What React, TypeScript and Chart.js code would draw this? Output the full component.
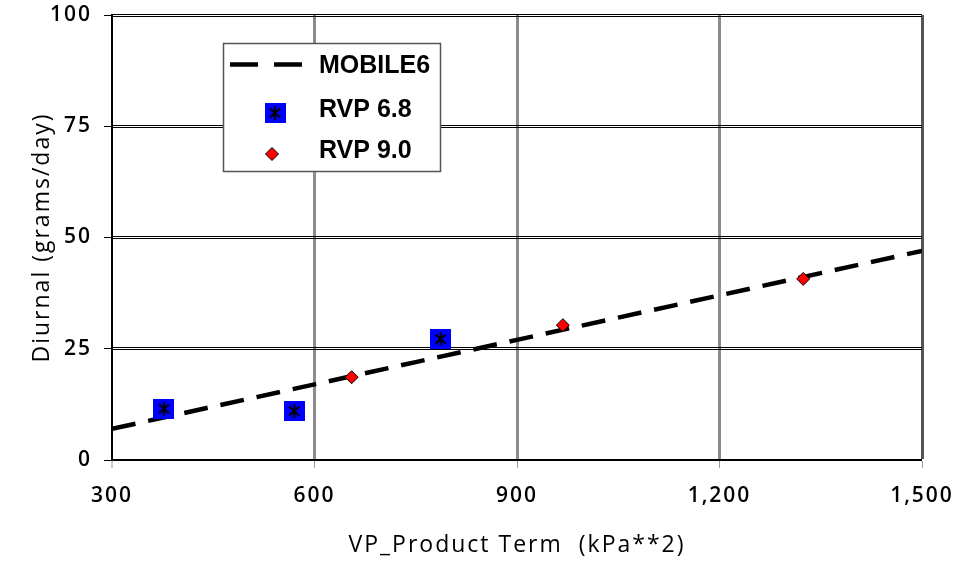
import React, { useEffect, useRef } from 'react';
import { Chart, registerables } from 'chart.js';

Chart.register(...registerables);

// ---- data ----
const xTickValues = [300, 600, 900, 1200, 1500];
const yTickValues = [0, 25, 50, 75, 100];

const mobileX = [300, 450, 600, 750, 900, 1050, 1200, 1350, 1500];
const mobileY = [7.0, 12.0, 17.0, 22.0, 27.0, 32.0, 37.0, 42.0, 47.0];

const rvp68X = [377, 570, 787];
const rvp68Y = [11.5, 11.0, 27.2];

const rvp90X = [655, 968, 1324];
const rvp90Y = [18.6, 30.3, 40.7];

const seriesNames = ['MOBILE6', 'RVP 6.8', 'RVP 9.0'];
const xTitle = 'VP_Product Term  (kPa**2)';
const yTitle = 'Diurnal (grams/day)';

const FONT = '"Open Sans", "DejaVu Sans", sans-serif';

function makeSquareMarker(): HTMLCanvasElement {
  const c = document.createElement('canvas');
  c.width = 21;
  c.height = 20;
  const g = c.getContext('2d')!;
  g.fillStyle = '#0000ff';
  g.fillRect(0, 0, 21, 20);
  g.strokeStyle = '#000';
  g.lineWidth = 2;
  g.beginPath();
  g.moveTo(10.5, 3);
  g.lineTo(10.5, 17);
  g.moveTo(5.5, 5.5);
  g.lineTo(15.5, 14.5);
  g.moveTo(15.5, 5.5);
  g.lineTo(5.5, 14.5);
  g.stroke();
  return c;
}

export default function App() {
  const ref = useRef<HTMLCanvasElement>(null);

  useEffect(() => {
    document.body.style.margin = '0';
    const canvas = ref.current!;
    const marker = makeSquareMarker();

    const spacingPlugin = {
      id: 'spacing',
      beforeDraw(chart: any) {
        (chart.ctx as any).letterSpacing = '2px';
      },
    };

    const doubleGridPlugin = {
      id: 'doubleGrid',
      beforeDatasetsDraw(chart: any) {
        const { ctx, chartArea, scales } = chart;
        const ys = scales.y;
        ctx.save();
        ctx.fillStyle = '#000';
        const w = chartArea.right - chartArea.left;
        for (const v of yTickValues) {
          if (v === yTickValues[0]) continue;
          const py = Math.floor(ys.getPixelForValue(v));
          ctx.fillRect(chartArea.left, py - 1, w, 1);
          ctx.fillRect(chartArea.left, py + 1, w, 1);
        }
        ctx.restore();
      },
    };

    const legendPlugin = {
      id: 'boxLegend',
      afterDraw(chart: any) {
        const ctx = chart.ctx;
        const ds = chart.data.datasets;
        ctx.save();
        (ctx as any).letterSpacing = '0px';
        const bx = 223, by = 43, bw = 217, bh = 128;
        ctx.fillStyle = '#fff';
        ctx.fillRect(bx, by, bw, bh);
        ctx.strokeStyle = '#555';
        ctx.lineWidth = 1.5;
        ctx.strokeRect(bx + 0.5, by + 0.5, bw, bh);

        // line sample
        ctx.strokeStyle = '#000';
        ctx.lineWidth = 4.5;
        ctx.lineCap = 'butt';
        ctx.setLineDash([28, 16]);
        ctx.beginPath();
        ctx.moveTo(230, 64.5);
        ctx.lineTo(303, 64.5);
        ctx.stroke();
        ctx.setLineDash([]);

        // square marker
        ctx.drawImage(marker, 275 - 10.5, 113 - 10);

        // diamond marker
        const dx = 272, dy = 154, r = 6.5;
        ctx.beginPath();
        ctx.moveTo(dx, dy - r);
        ctx.lineTo(dx + r, dy);
        ctx.lineTo(dx, dy + r);
        ctx.lineTo(dx - r, dy);
        ctx.closePath();
        ctx.fillStyle = '#ff0000';
        ctx.fill();
        ctx.lineWidth = 1;
        ctx.strokeStyle = '#000';
        ctx.stroke();

        ctx.font = 'bold 25px "Liberation Sans", Arial, sans-serif';
        ctx.fillStyle = '#000';
        ctx.textAlign = 'left';
        ctx.textBaseline = 'alphabetic';
        ctx.fillText(ds[0].label, 319, 73);
        ctx.fillText(ds[1].label, 319, 117);
        ctx.fillText(ds[2].label, 319, 158);
        ctx.restore();
      },
    };

    const chart = new Chart(canvas, {
      type: 'scatter',
      data: {
        datasets: [
          {
            label: seriesNames[0],
            data: mobileX.map((x, i) => ({ x, y: mobileY[i] })),
            showLine: true,
            borderColor: '#000',
            backgroundColor: '#000',
            borderWidth: 4.5,
            borderDash: [24, 13],
            borderCapStyle: 'butt',
            pointRadius: 0,
            pointHoverRadius: 0,
            tension: 0,
            fill: false,
            order: 3,
          } as any,
          {
            label: seriesNames[1],
            data: rvp68X.map((x, i) => ({ x, y: rvp68Y[i] })),
            showLine: false,
            pointStyle: marker,
            pointRadius: 10,
            order: 2,
          } as any,
          {
            label: seriesNames[2],
            data: rvp90X.map((x, i) => ({ x, y: rvp90Y[i] })),
            showLine: false,
            pointStyle: 'rectRot',
            pointRadius: 6.5,
            backgroundColor: '#ff0000',
            borderColor: '#000',
            borderWidth: 1,
            order: 1,
          } as any,
        ],
      },
      options: {
        responsive: false,
        animation: false,
        locale: 'en-US',
        events: [],
        layout: { autoPadding: false, padding: { left: 8, top: 15, right: 38, bottom: 0 } },
        plugins: {
          legend: { display: false },
          tooltip: { enabled: false },
        },
        scales: {
          x: {
            type: 'linear',
            min: 300,
            max: 1500,
            afterBuildTicks: (s: any) => {
              s.ticks = xTickValues.map((v) => ({ value: v }));
            },
            afterFit: (s: any) => {
              s.height = 105;
              s.paddingLeft = 0;
              s.paddingRight = 0;
            },
            ticks: {
              font: { family: FONT, size: 21, weight: '600' },
              color: '#000',
              padding: 15,
              maxRotation: 0,
              autoSkip: false,
            },
            grid: {
              color: (c: any) => (c.index === xTickValues.length - 1 ? '#555' : '#8c8c8c'),
              lineWidth: (c: any) => (c.index === 0 ? 0 : 3),
              tickColor: '#999',
              tickLength: 8,
              tickWidth: 1,
            },
            border: { display: true, color: '#000', width: 2 },
            title: {
              display: true,
              text: xTitle,
              color: '#000',
              font: { family: FONT, size: 23, weight: '500', lineHeight: 1 },
              padding: { top: 0, bottom: 8 },
            },
          },
          y: {
            type: 'linear',
            min: 0,
            max: 100,
            afterBuildTicks: (s: any) => {
              s.ticks = yTickValues.map((v) => ({ value: v }));
            },
            afterFit: (s: any) => {
              s.width = 104;
              s.paddingTop = 0;
              s.paddingBottom = 0;
            },
            ticks: {
              font: { family: FONT, size: 21, weight: '600' },
              color: '#000',
              padding: 12,
            },
            grid: {
              drawOnChartArea: false,
              color: '#000',
              tickColor: '#000',
              tickLength: 8,
              tickWidth: 1,
            },
            border: { display: true, color: '#000', width: 2 },
            title: {
              display: true,
              text: yTitle,
              color: '#000',
              font: { family: FONT, size: 23, weight: '500', lineHeight: 1 },
              padding: { top: 22.5, bottom: 0 },
            },
          },
        },
      } as any,
      plugins: [spacingPlugin, doubleGridPlugin, legendPlugin],
    });

    return () => chart.destroy();
  }, []);

  return (
    <div style={{ width: 960, height: 565 }}>
      <canvas ref={ref} width={960} height={565} style={{ display: 'block' }} />
    </div>
  );
}
